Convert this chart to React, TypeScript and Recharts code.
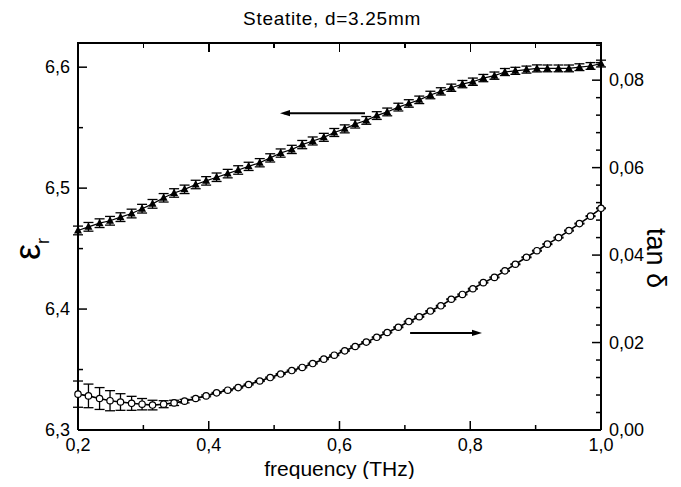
import React from "react";
import {
  ComposedChart,
  Line,
  XAxis,
  YAxis,
  ErrorBar,
  ReferenceLine,
  Label,
} from "recharts";

// frequency points (THz)
const freq = [
  0.2, 0.216, 0.233, 0.249, 0.265, 0.282, 0.298, 0.314, 0.331, 0.347,
  0.363, 0.38, 0.396, 0.412, 0.429, 0.445, 0.461, 0.478, 0.494, 0.51,
  0.527, 0.543, 0.559, 0.576, 0.592, 0.608, 0.624, 0.641, 0.657, 0.673,
  0.69, 0.706, 0.722, 0.739, 0.755, 0.771, 0.788, 0.804, 0.82, 0.837,
  0.853, 0.869, 0.886, 0.902, 0.918, 0.935, 0.951, 0.967, 0.984, 1.0,
];

// permittivity eps_r
const eps = [
  6.465, 6.468, 6.471, 6.473, 6.476, 6.479, 6.483, 6.487, 6.492, 6.496,
  6.499, 6.503, 6.506, 6.509, 6.512, 6.515, 6.518, 6.521, 6.525, 6.529,
  6.532, 6.536, 6.539, 6.542, 6.546, 6.549, 6.553, 6.556, 6.56, 6.563,
  6.567, 6.57, 6.573, 6.577, 6.58, 6.583, 6.586, 6.588, 6.591, 6.593,
  6.596, 6.597, 6.598, 6.599, 6.599, 6.599, 6.599, 6.6, 6.601, 6.603,
];

const epsErr = [
  0.0036, 0.0036, 0.0036, 0.0036, 0.0036, 0.0036, 0.0036, 0.0036, 0.0035, 0.0035,
  0.0035, 0.0035, 0.0035, 0.0035, 0.0035, 0.0035, 0.0034, 0.0034, 0.0034, 0.0034,
  0.0034, 0.0034, 0.0033, 0.0033, 0.0033, 0.0033, 0.0033, 0.0032, 0.0032, 0.0032,
  0.0032, 0.0031, 0.0031, 0.0031, 0.003, 0.003, 0.003, 0.003, 0.003, 0.003,
  0.0029, 0.0029, 0.0029, 0.0029, 0.0028, 0.0028, 0.0028, 0.0028, 0.0028, 0.0028,
];

// loss tangent
const tanD = [
  0.0082, 0.0078, 0.0072, 0.0067, 0.0064, 0.0061, 0.0059, 0.0057, 0.0059, 0.0062,
  0.0066, 0.0072, 0.0078, 0.0085, 0.0091, 0.0097, 0.0104, 0.0112, 0.012, 0.0128,
  0.0136, 0.0143, 0.0152, 0.0162, 0.0171, 0.0181, 0.0191, 0.0201, 0.0212, 0.0223,
  0.0235, 0.0248, 0.0259, 0.0272, 0.0284, 0.0299, 0.031, 0.0323, 0.0337, 0.0349,
  0.0364, 0.0379, 0.0395, 0.041, 0.0425, 0.044, 0.0456, 0.0472, 0.0489, 0.0507,
];

const tanErr = [
  0.003, 0.0027, 0.0025, 0.0023, 0.0019, 0.0016, 0.0013, 0.0011, 0.0008, 0.0006,
  0.0004, 0.0003, 0.0002, 0.0001, 0.0001, 0.0001, 0.0001, 0.0001, 0.0001, 0.0001,
  0.0001, 0.0001, 0.0001, 0.0001, 0.0001, 0.0001, 0.0001, 0.0001, 0.0001, 0.0001,
  0.0001, 0.0001, 0.0001, 0.0001, 0.0001, 0.0001, 0.0001, 0.0001, 0.0001, 0.0001,
  0.0001, 0.0001, 0.0001, 0.0001, 0.0001, 0.0001, 0.0001, 0.0001, 0.0001, 0.0001,
];

const xTicks = [0.2, 0.3, 0.4, 0.5, 0.6, 0.7, 0.8, 0.9, 1.0];
const xLabels = [0.2, 0.4, 0.6, 0.8, 1.0];
const leftTicks = [6.3, 6.35, 6.4, 6.45, 6.5, 6.55, 6.6];
const leftLabels = [6.3, 6.4, 6.5, 6.6];
const rightTicks = [
  0, 0.004, 0.008, 0.012, 0.016, 0.02, 0.024, 0.028, 0.032, 0.036, 0.04,
  0.044, 0.048, 0.052, 0.056, 0.06, 0.064, 0.068, 0.072, 0.076, 0.08, 0.084, 0.088,
];
const rightLabels = [0, 0.02, 0.04, 0.06, 0.08];
const xDomain = [0.2, 1.0];
const epsDomain = [6.3, 6.62];
const tanDomain = [0, 0.0885];

// annotation arrows, in data units: [x from, x to, y]
const epsArrow = [0.639, 0.509, 6.562];
const tanArrow = [0.708, 0.818, 0.0222];

const data = freq.map((f, i) => ({
  f,
  eps: eps[i],
  epsErr: epsErr[i],
  tan: tanD[i],
  tanErr: tanErr[i],
}));

// plot box (from chart size, margins and axis widths)
const W = 681;
const H = 487;
const PLOT_LEFT = 78;
const PLOT_RIGHT = W - 80;
const PLOT_TOP = 43;

const FONT = "'Liberation Sans', Arial, sans-serif";
const isIn = (arr: number[], v: number) => arr.some((a) => Math.abs(a - v) < 1e-9);
const comma = (v: number, d: number) => v.toFixed(d).replace(".", ",");

const BottomTick = (props: any) => {
  const { x, y, payload } = props;
  const v = payload.value;
  const major = isIn(xLabels, v);
  const ay = y - 4;
  return (
    <g>
      <line x1={x} x2={x} y1={ay} y2={ay - (major ? 9 : 5)} stroke="#000" strokeWidth={1.5} />
      {major && (
        <text x={x} y={y + 17} textAnchor="middle" fontSize={18} fontFamily={FONT} fill="#000">
          {comma(v, 1)}
        </text>
      )}
    </g>
  );
};

const LeftTick = (props: any) => {
  const { x, y, payload } = props;
  const v = payload.value;
  const major = isIn(leftLabels, v);
  const ax = x + 6;
  return (
    <g>
      <line x1={ax} x2={ax + (major ? 9 : 5)} y1={y} y2={y} stroke="#000" strokeWidth={1.5} />
      {major && (
        <text x={ax - 8} y={y + 6} textAnchor="end" fontSize={18} fontFamily={FONT} fill="#000">
          {comma(v, 1)}
        </text>
      )}
    </g>
  );
};

const RightTick = (props: any) => {
  const { x, y, payload } = props;
  const v = payload.value;
  const major = isIn(rightLabels, v);
  const ax = x - 6;
  return (
    <g>
      <line x1={ax} x2={ax - (major ? 9 : 5)} y1={y} y2={y} stroke="#000" strokeWidth={1.5} />
      {major && (
        <text x={ax + 8} y={y + 6} textAnchor="start" fontSize={18} fontFamily={FONT} fill="#000">
          {comma(v, 2)}
        </text>
      )}
    </g>
  );
};

const Triangle = (props: any) => {
  const { cx, cy, index } = props;
  if (cx == null || cy == null) return <g key={index} />;
  return (
    <polygon
      key={index}
      points={`${cx},${cy - 4.5} ${cx - 4},${cy + 3} ${cx + 4},${cy + 3}`}
      fill="#000"
    />
  );
};

const arrowShape = (props: any) => {
  const { x1, y1, x2, y2 } = props;
  const dir = Math.sign(x2 - x1);
  return (
    <g>
      <line x1={x1} y1={y1} x2={x2 - dir * 4} y2={y2} stroke="#000" strokeWidth={2} />
      <polygon
        points={`${x2},${y2} ${x2 - dir * 10},${y2 - 3.2} ${x2 - dir * 10},${y2 + 3.2}`}
        fill="#000"
      />
    </g>
  );
};

const EpsLabel = () => (
  <text transform="translate(40,249) rotate(-90)" textAnchor="middle" fontFamily={FONT} fill="#000">
    <tspan fontSize={36}>ε</tspan>
    <tspan fontSize={18} dy={9}>r</tspan>
  </text>
);

const TanLabel = () => (
  <text
    transform="translate(647,258) rotate(90)"
    textAnchor="middle"
    fontSize={27}
    fontFamily={FONT}
    fill="#000"
  >
    tan δ
  </text>
);

// top frame of the plot box with its inward ticks, laid over the chart
const TopFrame = () => {
  const sx = (t: number) =>
    PLOT_LEFT + ((t - xDomain[0]) / (xDomain[1] - xDomain[0])) * (PLOT_RIGHT - PLOT_LEFT);
  return (
    <>
      <div
        style={{
          position: "absolute",
          left: PLOT_LEFT - 1,
          top: PLOT_TOP - 1,
          width: PLOT_RIGHT - PLOT_LEFT + 2,
          height: 2,
          background: "#000",
          zIndex: 5,
        }}
      />
      {xTicks.map((t) => (
        <div
          key={t}
          style={{
            position: "absolute",
            left: sx(t) - 0.75,
            top: PLOT_TOP,
            width: 1.5,
            height: isIn(xLabels, t) ? 9 : 5,
            background: "#000",
            zIndex: 5,
          }}
        />
      ))}
    </>
  );
};

export default function App() {
  return (
    <div style={{ position: "relative", margin: -8, width: W, height: H, background: "#fff" }}>
      <div
        style={{
          position: "absolute",
          left: 0,
          top: 8,
          width: 664,
          textAlign: "center",
          fontFamily: FONT,
          fontSize: 19,
          lineHeight: "22px",
          letterSpacing: 0.7,
          color: "#000",
          zIndex: 4,
        }}
      >
        Steatite, d=3.25mm
      </div>
      <ComposedChart
        width={W}
        height={H}
        data={data}
        margin={{ top: PLOT_TOP, right: 0, bottom: 0, left: 0 }}
      >
        <XAxis
          dataKey="f"
          type="number"
          domain={xDomain}
          ticks={xTicks}
          interval={0}
          height={57}
          tickSize={0}
          tickMargin={4}
          tick={<BottomTick />}
          axisLine={{ stroke: "#000", strokeWidth: 2 }}
          tickLine={false}
        >
          <Label
            value="frequency (THz)"
            position="insideBottom"
            offset={11}
            style={{ fontSize: 21, fontFamily: FONT, fill: "#000" }}
          />
        </XAxis>
        <YAxis
          yAxisId="left"
          type="number"
          domain={epsDomain}
          ticks={leftTicks}
          interval={0}
          width={PLOT_LEFT}
          tickSize={0}
          tickMargin={6}
          tick={<LeftTick />}
          axisLine={{ stroke: "#000", strokeWidth: 2 }}
          tickLine={false}
          allowDataOverflow
        >
          <Label content={<EpsLabel />} />
        </YAxis>
        <YAxis
          yAxisId="right"
          orientation="right"
          type="number"
          domain={tanDomain}
          ticks={rightTicks}
          interval={0}
          width={W - PLOT_RIGHT}
          tickSize={0}
          tickMargin={6}
          tick={<RightTick />}
          axisLine={{ stroke: "#000", strokeWidth: 2 }}
          tickLine={false}
          allowDataOverflow
        >
          <Label content={<TanLabel />} />
        </YAxis>

        <ReferenceLine
          yAxisId="left"
          segment={[
            { x: epsArrow[0], y: epsArrow[2] },
            { x: epsArrow[1], y: epsArrow[2] },
          ]}
          shape={arrowShape}
        />
        <ReferenceLine
          yAxisId="right"
          segment={[
            { x: tanArrow[0], y: tanArrow[2] },
            { x: tanArrow[1], y: tanArrow[2] },
          ]}
          shape={arrowShape}
        />

        <Line
          yAxisId="left"
          dataKey="eps"
          type="linear"
          stroke="#000"
          strokeWidth={1.2}
          dot={<Triangle />}
          isAnimationActive={false}
        >
          <ErrorBar dataKey="epsErr" width={5} stroke="#000" strokeWidth={1.3} direction="y" />
        </Line>
        <Line
          yAxisId="right"
          dataKey="tan"
          type="linear"
          stroke="#000"
          strokeWidth={1.6}
          dot={{ r: 3.2, fill: "#fff", stroke: "#000", strokeWidth: 1.2 }}
          isAnimationActive={false}
        >
          <ErrorBar dataKey="tanErr" width={5} stroke="#000" strokeWidth={1.3} direction="y" />
        </Line>
      </ComposedChart>
      <TopFrame />
    </div>
  );
}
